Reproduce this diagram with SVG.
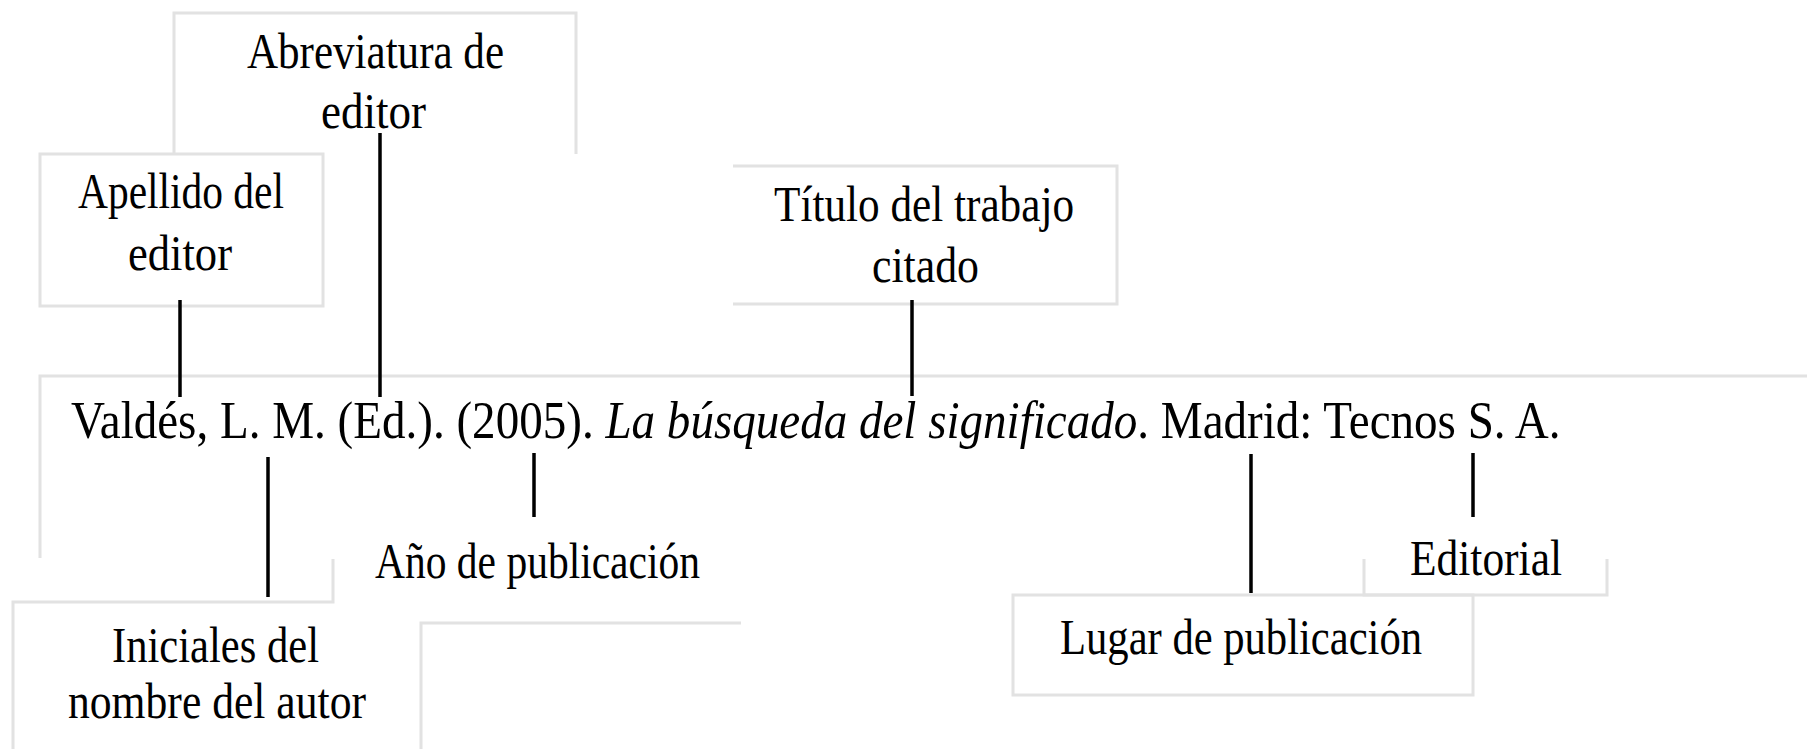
<svg xmlns="http://www.w3.org/2000/svg" width="1807" height="749" viewBox="0 0 1807 749">
<style>
.b{fill:none;stroke:#e2e2e2;stroke-width:3}
.t{font-family:"Liberation Serif","Times New Roman",serif;font-size:50px;fill:#000}
.m{font-size:52px}
.i{font-style:italic}
.c{stroke:#000;stroke-width:3.5;fill:none}
</style>
<rect width="1807" height="749" fill="#fff"/>
<g id="abreviatura">
<path class="b" d="M174,154 V13 H576 V154"/>
<text class="t" x="247" y="68" textLength="257" lengthAdjust="spacingAndGlyphs">Abreviatura de</text>
<text class="t" x="321" y="128" textLength="105" lengthAdjust="spacingAndGlyphs">editor</text>
</g>
<g id="apellido">
<rect class="b" x="40" y="154" width="283" height="152" fill="#fff"/>
<text class="t" x="78" y="208" textLength="206" lengthAdjust="spacingAndGlyphs">Apellido del</text>
<text class="t" x="128" y="270" textLength="104" lengthAdjust="spacingAndGlyphs">editor</text>
</g>
<g id="titulo">
<path class="b" d="M733,166 H1117 V304 H733"/>
<text class="t" x="774" y="221" textLength="300" lengthAdjust="spacingAndGlyphs">Título del trabajo</text>
<text class="t" x="872" y="282" textLength="107" lengthAdjust="spacingAndGlyphs">citado</text>
</g>
<g id="cita">
<path class="b" d="M40,558 V376 H1807"/>
<text class="t m" transform="translate(71,438) scale(0.905,1)">Valdés, L. M. (Ed.). (2005). <tspan class="i">La búsqueda del significado</tspan>. Madrid: Tecnos S. A.</text>
</g>
<g id="iniciales">
<path class="b" d="M333,559 V602 H13 V749"/>
<text class="t" x="112" y="662" textLength="207" lengthAdjust="spacingAndGlyphs">Iniciales del</text>
<text class="t" x="68" y="718" textLength="298" lengthAdjust="spacingAndGlyphs">nombre del autor</text>
</g>
<g id="anio">
<path class="b" d="M421,749 V623 H741"/>
<text class="t" x="375" y="578" textLength="325" lengthAdjust="spacingAndGlyphs">Año de publicación</text>
</g>
<g id="editorial">
<path class="b" d="M1364,559 V595 H1607 V559"/>
<text class="t" x="1410" y="575" textLength="152" lengthAdjust="spacingAndGlyphs">Editorial</text>
</g>
<g id="lugar">
<rect class="b" x="1013" y="595" width="460" height="100"/>
<text class="t" x="1060" y="654" textLength="362" lengthAdjust="spacingAndGlyphs">Lugar de publicación</text>
</g>
<g id="connectors">
<line class="c" x1="180" y1="300" x2="180" y2="397"/>
<line class="c" x1="380" y1="133" x2="380" y2="397"/>
<line class="c" x1="912" y1="300" x2="912" y2="396"/>
<line class="c" x1="268" y1="457" x2="268" y2="597"/>
<line class="c" x1="534" y1="453" x2="534" y2="517"/>
<line class="c" x1="1251" y1="454" x2="1251" y2="593"/>
<line class="c" x1="1473" y1="453" x2="1473" y2="517"/>
</g>
</svg>
